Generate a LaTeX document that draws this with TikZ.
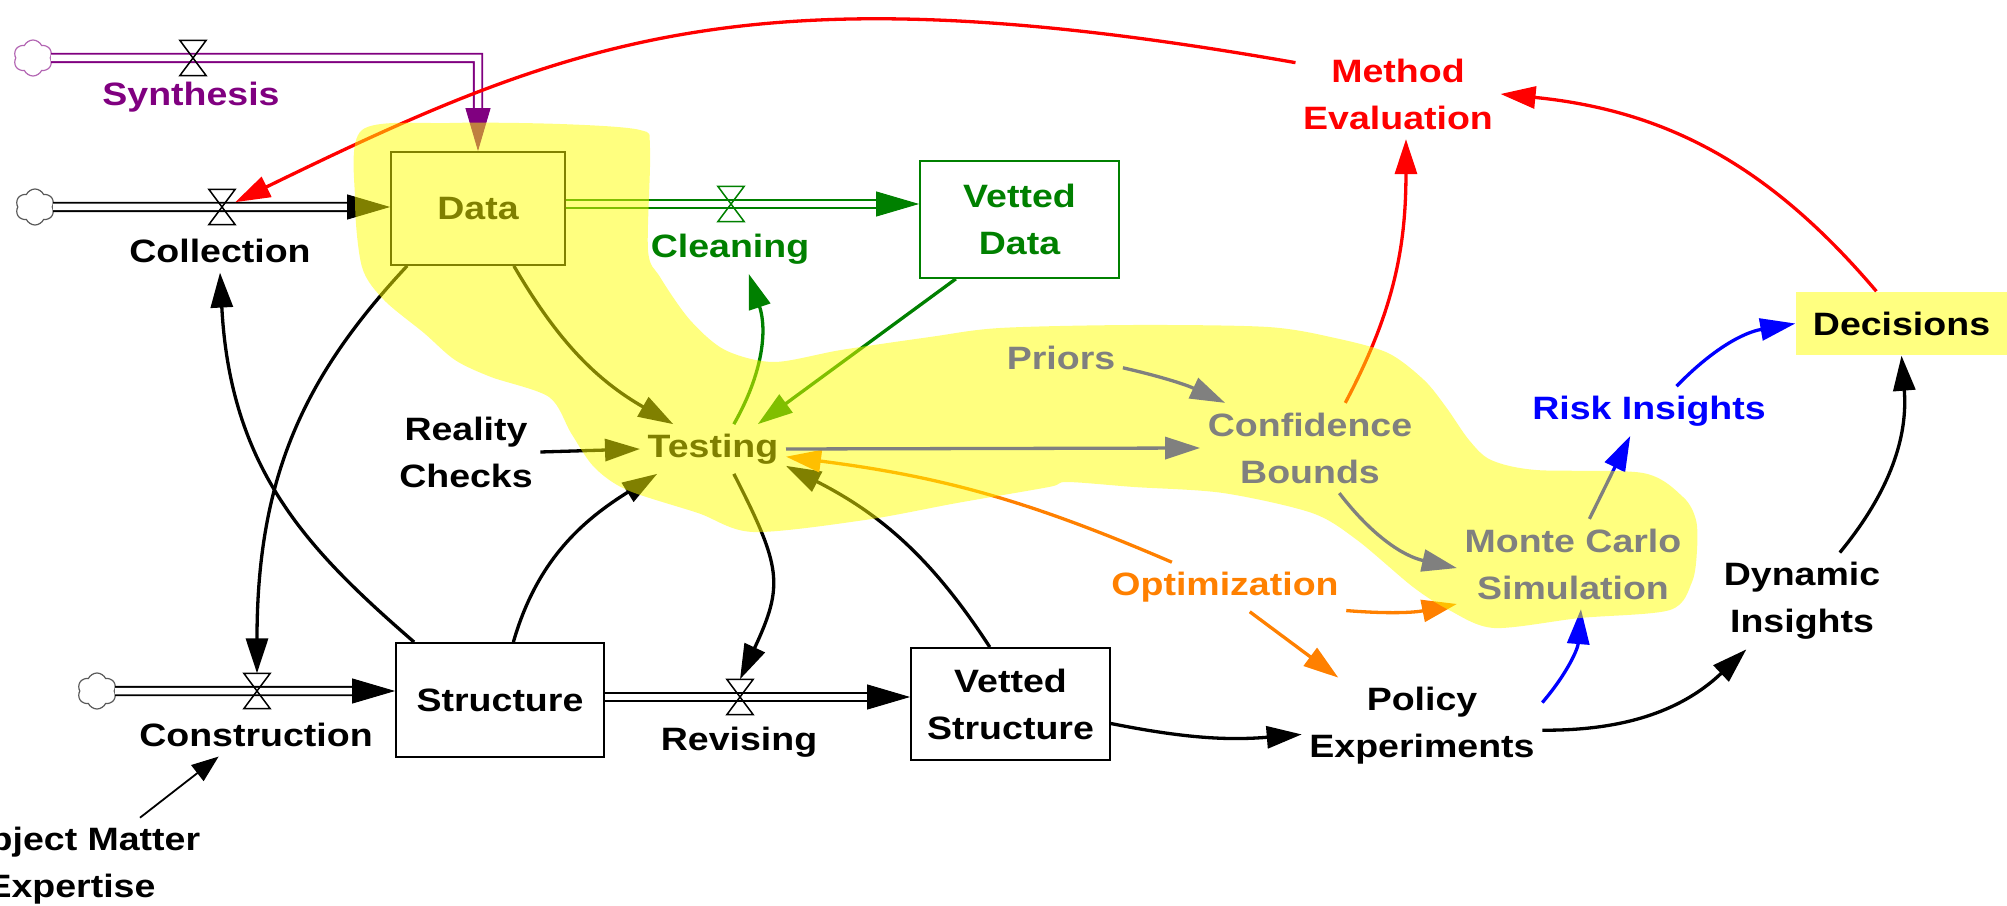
\documentclass[tikz,border=0pt]{standalone}
\usepackage{fontspec}
\setmainfont{Liberation Sans}[FakeStretch=1.16]
\usepackage{xcolor}
\usepackage{tikz}
\usetikzlibrary{arrows.meta, shapes.symbols}
\definecolor{synpurple}{RGB}{128,0,128}
\definecolor{vetgreen}{RGB}{0,128,0}
\definecolor{optorange}{RGB}{255,128,0}
\definecolor{hilite}{RGB}{255,255,0}
\tikzstyle{conn} = [line width=0.33mm,-{Triangle[length=3.5mm,width=2.2mm]}]
\tikzstyle{thinconn} = [line width=0.18mm,-{Triangle[length=2.7mm,width=2mm]}]
\tikzstyle{lbl} = [inner xsep=0.7mm,inner ysep=0.9mm,align=center]
\tikzstyle{stock} = [draw,line width=0.18mm,inner sep=0,align=center]
\tikzstyle{valve} = [minimum width=2.5mm,minimum height=3.4mm,inner sep=0]
\tikzstyle{cloudy} = [cloud,cloud puffs=6,cloud puff arc=130,cloud ignores aspect,minimum width=3.9mm,minimum height=3.6mm,inner sep=0,draw=black!65,line width=0.12mm]
\tikzset{
	pipe/.style={draw=#1,double=white,double distance=0.65mm,line width=0.18mm},
	pipehead/.style={draw=#1,line width=0.1mm,-{Triangle[length=4.3mm,width=2.5mm]}}
}

\begin{document}
\begin{tikzpicture}[x=0.1mm,y=0.1mm,font=\fontsize{9.2}{13.4}\selectfont\bfseries]
	\useasboundingbox (0,0) rectangle (2007,-906);
	% Stocks, flows and their labels:
	\node[cloudy,draw=synpurple!60] (syncloud) at (33,-58) {};
	\node[valve] (synvalve) at (193,-58) {};
	\node[lbl,text=synpurple] (synth) at (191,-97) {Synthesis};
	\node[cloudy] (collcloud) at (35,-207) {};
	\node[valve] (collvalve) at (222,-207) {};
	\node[lbl] (coll) at (220,-251) {Collection};
	\node[stock,minimum width=17.4mm,minimum height=11.3mm] (data) at (478,-208.5) {Data};
	\node[valve] (cleanvalve) at (731,-204) {};
	\node[lbl,text=vetgreen] (clean) at (730,-249) {Cleaning};
	\node[stock,draw=vetgreen,text=vetgreen,minimum width=19.9mm,minimum height=11.7mm] (vdata) at (1019.5,-219.5) {Vetted\\Data};
	\node[cloudy] (concloud) at (97,-691) {};
	\node[valve] (convalve) at (257,-691) {};
	\node[lbl] (constr) at (256,-735) {Construction};
	\node[stock,minimum width=20.8mm,minimum height=11.4mm] (struct) at (500,-700) {Structure};
	\node[valve] (revvalve) at (740,-697) {};
	\node[lbl] (revise) at (739,-742) {Revising};
	\node[stock,minimum width=19.9mm,minimum height=11.2mm] (vstruct) at (1010.5,-704) {Vetted\\Structure};

	% Auxiliaries:
	\node[lbl,text=red] (meval) at (1398,-94) {Method\\Evaluation};
	\node[fill=hilite!50,minimum width=21.1mm,minimum height=6.3mm,inner sep=0] (decis) at (1901.5,-323.5) {Decisions};
	\node[lbl] (testing) at (713,-449) {Testing};
	\node[lbl] (reality) at (466,-452) {Reality\\Checks};
	\node[lbl,text=blue] (priors) at (1061,-358) {Priors};
	\node[lbl,text=blue] (conf) at (1310,-448) {Confidence\\Bounds};
	\node[lbl,text=blue] (mc) at (1573,-564) {Monte Carlo\\Simulation};
	\node[lbl,text=blue] (risk) at (1649,-411) {Risk Insights};
	\node[lbl,text=optorange] (optim) at (1225,-587) {Optimization};
	\node[lbl] (policy) at (1422,-726) {Policy\\Experiments};
	\node[lbl] (dyn) at (1802,-601) {Dynamic\\Insights};
	\node[lbl] (sme) at (71,-866) {Subject Matter\\Expertise};

	% Pipes:
	% Each ends short of the stock, the head is drawn on its own
	\coordinate (synend) at (data.north |- synvalve);
	\coordinate (collend) at (data.west |- collvalve);
	\coordinate (cleanstart) at (data.east |- cleanvalve);
	\coordinate (cleanend) at (vdata.west |- cleanvalve);
	\coordinate (conend) at (struct.west |- convalve);
	\coordinate (revstart) at (struct.east |- revvalve);
	\coordinate (revend) at (vstruct.west |- revvalve);
	\draw[pipe=synpurple,shorten >=4.3mm] (syncloud.east) -- (synend) -- (data.north);
	\draw[pipehead=synpurple] ([yshift=4.3mm]data.north) -- (data.north);
	\draw[pipe=black,shorten >=4.3mm] (collcloud.east) -- (collend);
	\draw[pipehead=black] ([xshift=-4.3mm]collend) -- (collend);
	\draw[pipe=vetgreen,shorten >=4.3mm] (cleanstart) -- (cleanend);
	\draw[pipehead=vetgreen] ([xshift=-4.3mm]cleanend) -- (cleanend);
	\draw[pipe=black,shorten >=4.3mm] (concloud.east) -- (conend);
	\draw[pipehead=black] ([xshift=-4.3mm]conend) -- (conend);
	\draw[pipe=black,shorten >=4.3mm] (revstart) -- (revend);
	\draw[pipehead=black] ([xshift=-4.3mm]revend) -- (revend);
	\foreach \v/\c in {synvalve/black,collvalve/black,cleanvalve/vetgreen,convalve/black,revvalve/black}{%
		\draw[\c,line width=0.15mm] (\v.north west) -- (\v.north east) -- (\v.south west) -- (\v.south east) -- cycle;
	}

	% Connectors:
	\draw[conn] (data.-58) to[bend right=15] (testing.148);
	\draw[conn] (data.-141) to[out=-133,in=90,out looseness=0.88,in looseness=1.17] (convalve.north);
	\draw[conn] (struct.146) to[out=139,in=-87,out looseness=0.85,in looseness=1.22] (coll.south);
	\draw[conn] (struct.77) to[out=74,in=212] (testing.204);
	\draw[conn] (testing.-50) to[out=-63,in=65,looseness=1.3] (revvalve.north);
	\draw[conn] (vstruct.110) to[out=123,in=-27] (testing.-13);
	\draw[conn] (reality.east) -- (testing.west);
	\draw[conn,vetgreen] (testing.50) to[bend right=24] (clean.-53);
	\draw[conn,vetgreen] (vdata.-137) -- (testing.29);
	\draw[conn,optorange] (optim.155) to[bend right=8] (testing.-6);
	\draw[conn,blue] (testing.east) -- (conf.west);
	\draw[conn,blue] (priors.-9) to[bend left=6] (conf.152);
	\draw[conn,blue] (conf.-57) to[bend right=20] (mc.182);
	\draw[conn,optorange] (optim.-11) to[bend right=8] (mc.199);
	\draw[conn,optorange] (optim.-45) -- (policy.150);
	\draw[conn] (vstruct.-11) to[bend right=8] (policy.184);
	\draw[conn,blue] (policy.11) to[bend right=18] (mc.-80);
	\draw[conn] (policy.-2) to[bend right=22] (dyn.-139);
	\draw[conn] (dyn.52) to[bend right=22] (decis.south);
	\draw[conn,blue] (mc.70) -- (risk.-127);
	\draw[conn,blue] (risk.42) to[bend left=18] (decis.west);
	\draw[conn,red] (decis.128) to[bend right=22] (meval.east);
	\draw[conn,red] (conf.52) to[out=62,in=-90] (meval.-80);
	\draw[conn,red] (meval.163) to[out=170,in=26,out looseness=1.31,in looseness=0.91] (collvalve.20);
	\draw[thinconn] (sme.35) -- (constr.-150);

	% Highlight drawn last, half transparent over everything
	\fill[hilite,fill opacity=0.5] plot[smooth cycle,tension=0.5] coordinates {
		(362,-130) (450,-123) (560,-124) (640,-130) (650,-148) (648,-250) (660,-277)
		(690,-320) (725,-350) (774,-362) (841,-350) (930,-337) (1000,-328) (1134,-325)
		(1268,-327) (1335,-338) (1388,-353) (1424,-380) (1446,-407) (1469,-440)
		(1491,-460) (1536,-470) (1643,-473) (1683,-497) (1696,-520) (1697,-550)
		(1692,-582) (1670,-610) (1580,-618) (1494,-628) (1449,-610) (1413,-587)
		(1357,-540) (1312,-513) (1223,-493) (1134,-487) (1067,-482) (1049,-487)
		(957,-503) (865,-520) (753,-532) (698,-513) (627,-490) (594,-467) (571,-433)
		(549,-397) (491,-377) (455,-360) (424,-333) (384,-300) (362,-267) (355,-200)};
\end{tikzpicture}
\end{document}
